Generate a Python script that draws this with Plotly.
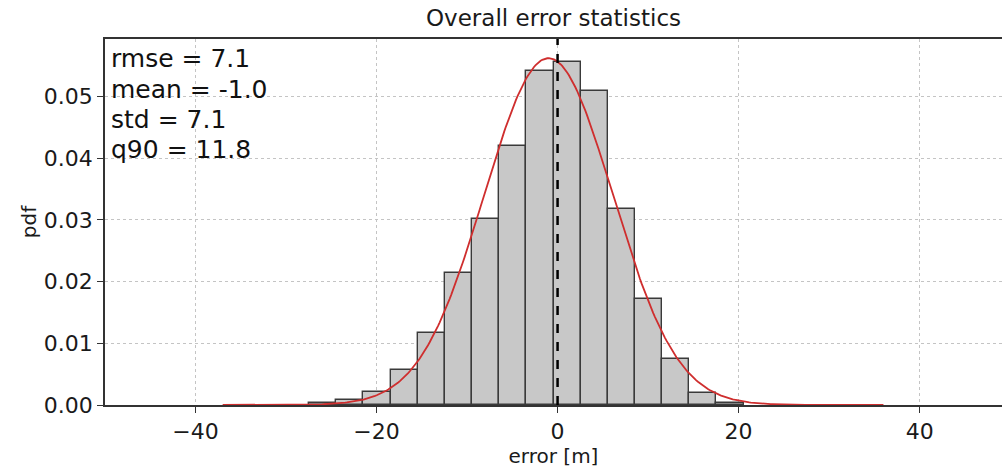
import numpy as np
import plotly.graph_objects as go

# Histogram of errors: bin left edges (m), bin width and pdf heights
bin_left = [-27.45, -24.45, -21.45, -18.45, -15.45, -12.45, -9.45, -6.45,
            -3.45, -0.45, 2.55, 5.55, 8.55, 11.55, 14.55, 17.55]
bin_width = 3.0
pdf_height = [0.0004, 0.0008, 0.0021, 0.0057, 0.0116, 0.0214, 0.0301, 0.0419,
              0.0541, 0.0555, 0.0509, 0.0318, 0.0171, 0.0074, 0.0020, 0.0004]

# Summary statistics shown in the corner
rmse = 7.1
mean = -1.0
std = 7.1
q90 = 11.8
err_min, err_max = -37.0, 36.0   # span of the fitted normal curve

x_ticks = [-40, -20, 0, 20, 40]
y_ticks = [0.00, 0.01, 0.02, 0.03, 0.04, 0.05]

centers = [b + bin_width / 2 for b in bin_left]

xs = np.linspace(err_min, err_max, 400)
fit = np.exp(-0.5 * ((xs - mean) / std) ** 2) / (std * np.sqrt(2 * np.pi))

FONT = "DejaVu Sans"
AX = "#333333"
TXT = "#1a1a1a"

fig = go.Figure()
fig.add_trace(go.Bar(
    x=centers, y=pdf_height, width=[bin_width] * len(centers),
    marker=dict(color="#c8c8c8", line=dict(color="#3a3a3a", width=1.4)),
    showlegend=False, hoverinfo="skip",
))
fig.add_trace(go.Scatter(
    x=xs, y=fit, mode="lines",
    line=dict(color="#cf2e2e", width=1.8),
    showlegend=False, hoverinfo="skip",
))

# zero-error reference line
fig.add_shape(type="line", x0=0, x1=0, y0=0, y1=1, xref="x", yref="y domain",
              line=dict(color="black", width=2.5, dash="dash"), layer="above")

stats = [f"rmse = {rmse:.1f}", f"mean = {mean:.1f}", f"std = {std:.1f}", f"q90 = {q90:.1f}"]
plot_top, plot_h = 39, 366
for i, s in enumerate(stats):
    ypix = 59 + 30 * i
    fig.add_annotation(
        text=s, xref="paper", yref="paper",
        x=0.004, y=1 - (ypix - plot_top) / plot_h,
        xanchor="left", yanchor="middle", showarrow=False,
        font=dict(family=FONT, size=25, color="#111111"),
    )

fig.update_layout(
    width=1002, height=472,
    margin=dict(l=105, r=0, t=39, b=67),
    paper_bgcolor="white", plot_bgcolor="white",
    bargap=0,
    font=dict(family=FONT, color=TXT),
    title=dict(text="Overall error statistics", x=0.5, xref="paper",
               y=1 - 18 / 472, yref="container", yanchor="middle",
               font=dict(family=FONT, size=23, color=TXT)),
)
fig.update_xaxes(
    range=[-50, 49.1], tickvals=x_ticks,
    ticktext=[f"\u2212{abs(v)}" if v < 0 else str(v) for v in x_ticks],
    showline=True, linecolor=AX, linewidth=1.6, mirror=True,
    ticks="outside", ticklen=6, tickwidth=1.4, tickcolor=AX,
    tickfont=dict(family=FONT, size=22, color=TXT),
    showgrid=True, gridcolor="#c4c4c4", gridwidth=1, griddash="dot",
    zeroline=False,
    title=dict(text="error [m]", font=dict(family=FONT, size=20, color=TXT), standoff=4),
)
fig.update_yaxes(
    range=[0, 0.0593], tickvals=y_ticks, ticktext=[f"{v:.2f}" for v in y_ticks],
    showline=True, linecolor=AX, linewidth=1.6, mirror=False,
    ticks="outside", ticklen=6, tickwidth=1.4, tickcolor=AX,
    tickfont=dict(family=FONT, size=22, color=TXT),
    showgrid=True, gridcolor="#c4c4c4", gridwidth=1, griddash="dot",
    zeroline=False,
    title=dict(text="pdf", font=dict(family=FONT, size=20, color=TXT), standoff=2),
)

fig.write_html("out.html")
